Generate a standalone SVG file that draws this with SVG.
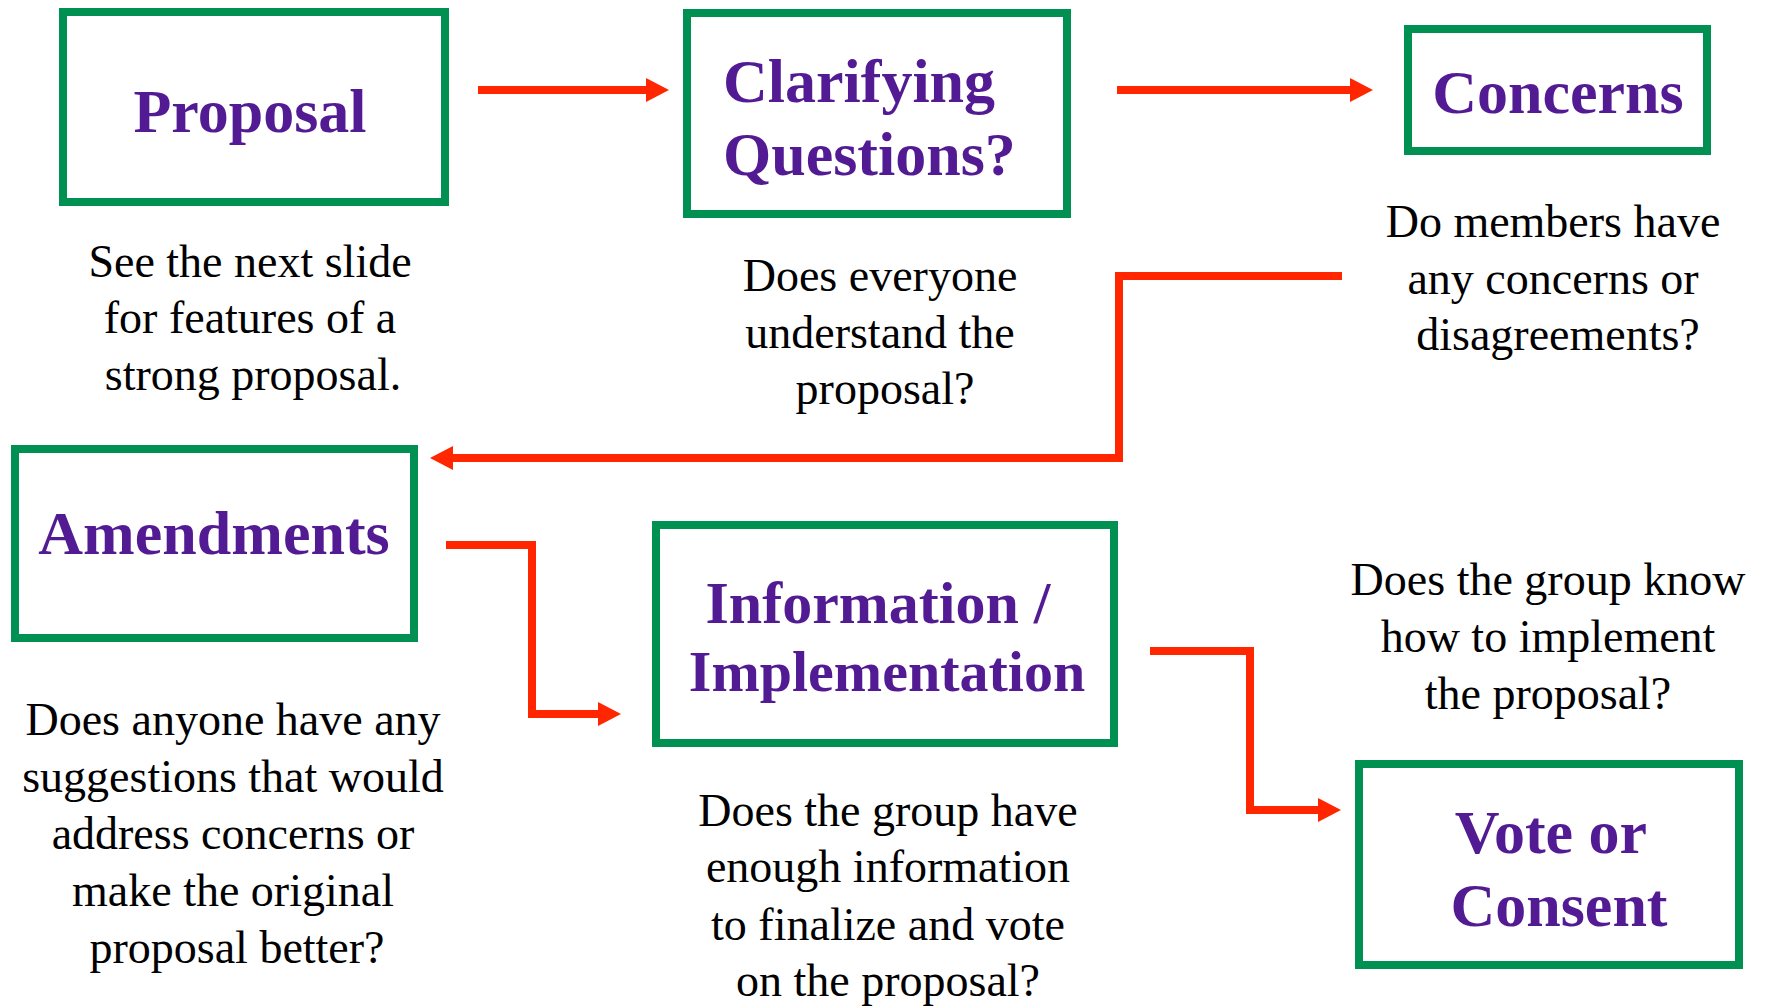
<svg xmlns="http://www.w3.org/2000/svg" width="1771" height="1008" viewBox="0 0 1771 1008">
<style>
.box{fill:#ffffff;stroke:#009051;stroke-width:8}
.title{font-family:"Liberation Serif","Times New Roman",serif;font-weight:bold;font-size:62px;fill:#521b93}
.desc{font-family:"Liberation Serif","Times New Roman",serif;font-size:46px;fill:#000000;text-anchor:middle}
.conn{fill:none;stroke:#ff2600;stroke-width:8;stroke-linejoin:miter}
</style>
<defs>
<marker id="ah" markerUnits="userSpaceOnUse" markerWidth="24" markerHeight="26" refX="0" refY="12" orient="auto" overflow="visible">
<polygon points="0,0 23,12 0,24" fill="#ff2600"/>
</marker>
</defs>
<rect width="1771" height="1008" fill="#ffffff"/>
<g id="connectors">
<path class="conn" d="M478,90 H646" marker-end="url(#ah)"/>
<path class="conn" d="M1117,90 H1350" marker-end="url(#ah)"/>
<path class="conn" d="M1342,276 H1119 V458 H453" marker-end="url(#ah)"/>
<path class="conn" d="M446,545 H532 V714 H598" marker-end="url(#ah)"/>
<path class="conn" d="M1150,651 H1250 V810 H1318" marker-end="url(#ah)"/>
</g>
<g id="proposal">
<rect class="box" x="63" y="12" width="382" height="190"/>
<text class="title" x="250" y="132" text-anchor="middle">Proposal</text>
<text class="desc" x="250" y="277">See the next slide</text>
<text class="desc" x="250" y="333">for features of  a</text>
<text class="desc" x="253" y="390">strong proposal.</text>
</g>
<g id="clarifying">
<rect class="box" x="687" y="13" width="380" height="201"/>
<text class="title" x="723" y="102">Clarifying</text>
<text class="title" x="723" y="175">Questions?</text>
<text class="desc" x="880" y="291">Does everyone</text>
<text class="desc" x="880" y="348">understand the</text>
<text class="desc" x="885" y="404">proposal?</text>
</g>
<g id="concerns">
<rect class="box" x="1408" y="29" width="299" height="122"/>
<text class="title" x="1558" y="113" text-anchor="middle">Concerns</text>
<text class="desc" x="1553" y="237">Do members have</text>
<text class="desc" x="1553" y="294">any concerns or</text>
<text class="desc" x="1558" y="350">disagreements?</text>
</g>
<g id="amendments">
<rect class="box" x="15" y="449" width="399" height="189"/>
<text class="title" x="214" y="554" text-anchor="middle">Amendments</text>
<text class="desc" x="233" y="735">Does anyone have any</text>
<text class="desc" x="233" y="792">suggestions that would</text>
<text class="desc" x="233" y="849">address concerns or</text>
<text class="desc" x="233" y="906">make the original</text>
<text class="desc" x="237" y="963">proposal better?</text>
</g>
<g id="information">
<rect class="box" x="656" y="525" width="458" height="218"/>
<text class="title" x="878" y="623" text-anchor="middle" style="font-size:60px">Information /</text>
<text class="title" x="887" y="691" text-anchor="middle" style="font-size:58px">Implementation</text>
<text class="desc" x="888" y="826">Does the group have</text>
<text class="desc" x="888" y="882">enough information</text>
<text class="desc" x="888" y="940">to finalize and vote</text>
<text class="desc" x="888" y="996">on the proposal?</text>
</g>
<g id="vote">
<rect class="box" x="1359" y="764" width="380" height="201"/>
<text class="title" x="1551" y="853" text-anchor="middle">Vote or</text>
<text class="title" x="1559" y="926" text-anchor="middle">Consent</text>
<text class="desc" x="1548" y="595">Does the group know</text>
<text class="desc" x="1548" y="652">how to implement</text>
<text class="desc" x="1548" y="709">the proposal?</text>
</g>
</svg>
